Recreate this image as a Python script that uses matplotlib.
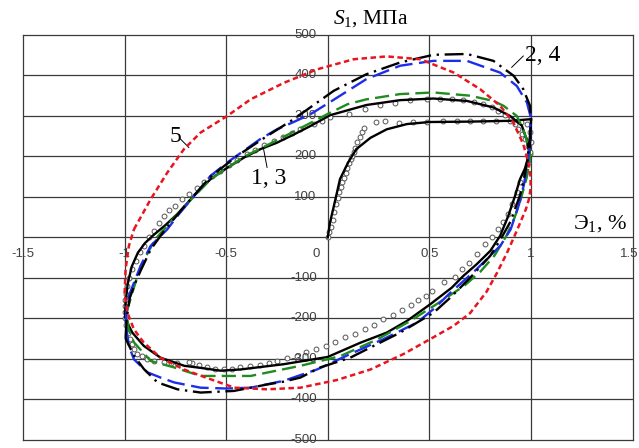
import matplotlib
matplotlib.use('Agg')
import matplotlib.pyplot as plt

plt.rcParams['font.family'] = ['Liberation Serif', 'DejaVu Serif']
plt.rcParams['mathtext.fontset'] = 'custom'
plt.rcParams['mathtext.rm'] = 'Liberation Serif'
plt.rcParams['mathtext.it'] = 'Liberation Serif:italic'

# strain, %  /  stress, MPa

# curve 1 (model): initial loading + stabilised loop
init_x = [0.0, 0.01, 0.03, 0.06, 0.10, 0.14, 0.21, 0.29, 0.39, 0.50, 0.70, 0.90, 1.0]
init_y = [0, 35, 78, 144, 185, 218, 246, 267, 280, 285, 286, 288, 292]
c1_down_x = [1.0, 0.997, 0.99, 0.97, 0.946, 0.921, 0.888, 0.848, 0.80, 0.733, 0.667, 0.61,
             0.504, 0.39, 0.29, 0.16, 0.0, -0.217, -0.43, -0.528, -0.627, -0.706, -0.823,
             -0.905, -0.962, -0.986, -0.998]
c1_down_y = [292, 240, 205, 170, 144, 102, 53, 4, -33, -66, -95, -124,
             -165, -206, -235, -260, -295, -313, -326, -329, -322, -317, -297,
             -268, -235, -211, -197]
c1_up_x = [-0.998, -0.995, -0.985, -0.965, -0.935, -0.9, -0.86, -0.8, -0.74, -0.66, -0.577,
           -0.495, -0.413, -0.332, -0.25, -0.168, -0.086, 0.012, 0.19, 0.356, 0.52, 0.685,
           0.815, 0.897, 0.955, 0.98, 0.99, 0.997]
c1_up_y = [-197, -160, -115, -72, -38, -14, 5, 30, 58, 102, 144,
           172, 197, 218, 234, 254, 275, 302, 327, 339, 343, 337,
           321, 300, 276, 239, 214, 200]

# curve 3
c3_up_x = [-0.99, -0.962, -0.92, -0.85, -0.74, -0.577, -0.413, -0.25, -0.134, 0.0, 0.097,
           0.19, 0.356, 0.52, 0.70, 0.815, 0.865, 0.93, 0.962, 0.985, 0.997]
c3_up_y = [-185, -136, -70, -5, 58, 144, 199, 240, 270, 305, 329,
           341, 354, 358, 350, 337, 325, 300, 267, 230, 200]
c3_down_x = [0.997, 0.98, 0.95, 0.92, 0.88, 0.82, 0.75, 0.67, 0.55, 0.4, 0.243, 0.062,
             -0.135, -0.38, -0.626, -0.756, -0.872, -0.954, -0.98, -0.99]
c3_down_y = [200, 150, 95, 50, 5, -45, -85, -120, -160, -208, -252, -293,
             -317, -342, -342, -321, -305, -259, -227, -185]

# curve 2
c2_up_x = [-0.995, -0.99, -0.979, -0.954, -0.921, -0.872, -0.79, -0.74, -0.577, -0.495,
           -0.332, -0.25, -0.168, -0.086, 0.029, 0.19, 0.356, 0.52, 0.685, 0.848, 0.93,
           0.98, 0.997]
c2_up_y = [-211, -180, -144, -112, -70, -21, 20, 53, 152, 185,
           243, 267, 285, 304, 340, 391, 424, 436, 436, 407, 374,
           333, 300]
c2_down_x = [0.997, 0.995, 0.985, 0.965, 0.94, 0.9, 0.85, 0.8, 0.733, 0.667, 0.6, 0.52,
             0.44, 0.274, 0.11, -0.053, -0.217, -0.38, -0.5, -0.626, -0.756, -0.823,
             -0.888, -0.954, -0.979, -0.995]
c2_down_y = [300, 240, 190, 130, 80, 20, -20, -45, -78, -108, -138, -177,
             -210, -251, -288, -326, -354, -371, -373, -371, -358, -346,
             -333, -301, -268, -211]

# curve 4
c4_up_x = [-0.995, -0.99, -0.975, -0.946, -0.921, -0.872, -0.80, -0.70, -0.577, -0.45,
           -0.3, -0.168, 0.029, 0.19, 0.356, 0.52, 0.685, 0.815, 0.915, 0.962,
           0.995, 1.0]
c4_up_y = [-250, -200, -150, -110, -82, -30, 20, 80, 150, 200,
           250, 292, 362, 403, 432, 451, 453, 436, 399, 366,
           325, 290]
c4_down_x = [1.0, 0.995, 0.98, 0.95, 0.9, 0.85, 0.8, 0.7, 0.6, 0.52, 0.356, 0.193, 0.11,
             -0.037, -0.135, -0.217, -0.298, -0.462, -0.626, -0.74, -0.838, -0.905,
             -0.954, -0.986, -0.995]
c4_down_y = [290, 250, 180, 110, 40, -5, -45, -100, -150, -186, -235, -276, -297,
             -321, -346, -356, -363, -379, -383, -375, -358, -325,
             -292, -259, -250]

# curve 5
c5_x = [-0.954, -0.872, -0.79, -0.708, -0.626, -0.495, -0.38, -0.215, -0.053, 0.127, 0.29,
        0.455, 0.62, 0.75, 0.848, 0.913, 0.962, 0.987, 0.998, 0.998, 0.99, 0.975, 0.95,
        0.92, 0.88, 0.83, 0.78, 0.70, 0.62, 0.504, 0.372, 0.21, 0.045, -0.135, -0.298,
        -0.46, -0.6, -0.708, -0.823, -0.905, -0.954, -0.986, -1.0, -0.995, -0.979, -0.954]
c5_y = [20, 94, 160, 218, 259, 300, 341, 382, 415, 440, 447,
        440, 407, 366, 325, 284, 230, 185, 150, 120, 95, 70, 40,
        5, -40, -90, -135, -187, -218, -251, -288, -326, -352, -371, -375,
        -371, -346, -326, -297, -260, -227, -186, -137, -78, -21, 20]

# experiment
exp_init_x = [0.0, 0.008, 0.016, 0.024, 0.032, 0.04, 0.048, 0.056, 0.064, 0.072, 0.08, 0.088,
              0.096, 0.104, 0.112, 0.12, 0.128, 0.136, 0.146, 0.156, 0.168, 0.18, 0.235,
              0.28, 0.35, 0.42, 0.487, 0.567, 0.635, 0.70, 0.765, 0.83, 0.897, 0.95, 0.98,
              0.995, 1.0]
exp_init_y = [0, 14, 27, 42, 62, 82, 98, 112, 124, 136, 148, 160,
              172, 183, 193, 201, 211, 222, 236, 247, 260, 271, 285,
              288, 282, 285, 285, 288, 288, 288, 288, 288, 288, 285, 280,
              260, 235]
exp_loop_x = [0.997, 0.987, 0.97, 0.946, 0.93, 0.905, 0.888, 0.864, 0.839, 0.807, 0.774,
              0.733, 0.697, 0.66, 0.627, 0.572, 0.512, 0.484, 0.443, 0.409, 0.365, 0.32,
              0.271, 0.225, 0.181, 0.135, 0.086, 0.037, -0.007, -0.057, -0.106, -0.151,
              -0.2, -0.25, -0.291, -0.335, -0.384, -0.43, -0.471, -0.512, -0.553, -0.594,
              -0.635, -0.667, -0.684, -0.741, -0.774, -0.807, -0.856, -0.888, -0.913,
              -0.938, -0.954, -0.962, -0.974, -0.985, -0.995, -1.0, -1.0, -1.0, -1.0,
              -0.995, -0.986, -0.979, -0.962, -0.946, -0.925, -0.905, -0.88, -0.856,
              -0.832, -0.807, -0.782, -0.754, -0.716, -0.684, -0.646, -0.61, -0.572,
              -0.532, -0.487, -0.446, -0.4, -0.356, -0.312, -0.266, -0.22, -0.176, -0.135,
              -0.07, -0.03, 0.012, 0.102, 0.184, 0.258, 0.332, 0.405, 0.487, 0.553, 0.61,
              0.667, 0.717, 0.766, 0.807, 0.839, 0.872, 0.9, 0.921, 0.938, 0.954, 0.97,
              0.985, 0.995]
exp_loop_y = [205, 185, 160, 136, 111, 82, 58, 37, 20, 0, -16,
              -41, -62, -78, -97, -110, -132, -144, -154, -167, -179, -192,
              -202, -215, -227, -239, -247, -258, -268, -276, -284, -292,
              -297, -305, -311, -315, -317, -321, -325, -325, -325, -321,
              -315, -309, -307, -310, -309, -307, -305, -300, -292,
              -288, -276, -264, -252, -235, -215, -200, -185, -170, -155,
              -140, -120, -99, -79, -58, -37, -21, 0, 16,
              35, 54, 68, 78, 95, 107, 122, 137, 152,
              164, 179, 191, 205, 215, 228, 238, 249, 259, 267,
              279, 288, 298, 306, 317, 326, 333, 339, 343, 343, 343,
              339, 335, 329, 321, 313, 302, 292, 280, 267, 255, 243,
              226, 210]

x_ticks = [-1.5, -1.0, -0.5, 0.0, 0.5, 1.0, 1.5]
x_tick_labels = ['-1.5', '-1', '-0.5', '0', '0.5', '1', '1.5']
y_ticks = [500, 400, 300, 200, 100, -100, -200, -300, -400, -500]

fig = plt.figure(figsize=(6.39, 4.48), dpi=100)
ax = fig.add_axes([0.036, 0.018, 0.954, 0.904])
ax.set_xlim(-1.5, 1.5)
ax.set_ylim(-500, 500)
ax.set_xticks([])
ax.set_yticks([])
for s in ax.spines.values():
    s.set_color('#3a3a3a')
    s.set_linewidth(0.9)

grid_kw = dict(color='#3a3a3a', lw=0.9, zorder=1)
for gx in x_ticks[1:-1]:
    ax.axvline(gx, **grid_kw)
for gy in [400, 300, 200, 100, 0, -100, -200, -300, -400]:
    ax.axhline(gy, **grid_kw)

ax.plot(exp_init_x, exp_init_y, 'o', ms=3.5, mfc='white', mec='#555555', mew=0.7, zorder=3)
ax.plot(exp_loop_x, exp_loop_y, 'o', ms=3.5, mfc='white', mec='#555555', mew=0.7, zorder=3)

ax.plot(init_x, init_y, color='black', lw=1.7, zorder=4)
ax.plot(c1_down_x + c1_up_x, c1_down_y + c1_up_y, color='black', lw=1.7, zorder=4)
ax.plot(c3_up_x + c3_down_x, c3_up_y + c3_down_y, color='#1e8c1e', lw=1.7,
        ls=(0, (6.0, 2.6)), zorder=5)
ax.plot(c2_up_x + c2_down_x, c2_up_y + c2_down_y, color='#1c2ee8', lw=1.7,
        ls=(0, (7.5, 2.8)), zorder=5)
ax.plot(c4_up_x + c4_down_x, c4_up_y + c4_down_y, color='black', lw=1.7,
        ls=(0, (8.0, 2.4, 1.0, 2.4)), zorder=5)
ax.plot(c5_x, c5_y, color='#e8141e', lw=1.8, ls=(0, (2.2, 1.4)), zorder=6)

tick_font = dict(family=['Liberation Sans', 'DejaVu Sans'], fontsize=9.5, color='#404040')
for tx, tl in zip(x_ticks, x_tick_labels):
    if tx == 0:
        ax.text(-0.055, -41, tl, ha='center', va='center', clip_on=False, **tick_font)
    elif tx == 1.5:
        ax.text(1.527, -41, tl, ha='right', va='center', clip_on=False, **tick_font)
    else:
        ax.text(tx, -41, tl, ha='center', va='center', clip_on=False, **tick_font)
for ty in y_ticks:
    ax.text(-0.055, ty, str(ty), ha='right', va='center', clip_on=False, **tick_font)

fig.text(0.521, 0.958, r'$S_1$, МПа', fontsize=15.5, ha='left', va='center')
fig.text(0.896, 0.50, r'Э$_1$, %', fontsize=16, ha='left', va='center')

# curve labels with leader lines
ax.text(-0.749, 250, '5', fontsize=17, ha='center', va='center')
ax.plot([-0.725, -0.684], [243, 222], color='black', lw=0.7)
ax.text(-0.29, 145, '1, 3', fontsize=17, ha='center', va='center')
ax.plot([-0.316, -0.299], [218, 173], color='black', lw=0.7)
ax.text(1.058, 449, '2, 4', fontsize=17, ha='center', va='center')
ax.plot([0.905, 0.962], [420, 448], color='black', lw=0.7)

fig.savefig('out.png', dpi=100)
